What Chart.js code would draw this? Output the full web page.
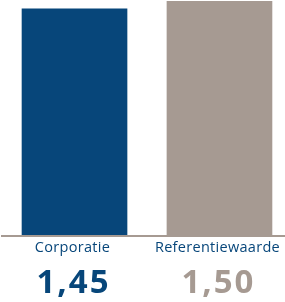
<!DOCTYPE html>
<html>
<head>
<meta charset="utf-8">
<script src="https://cdn.jsdelivr.net/npm/chart.js@4"></script>
<style>
  html, body { margin: 0; padding: 0; background: #fff; }
  #wrap { width: 285px; height: 302px; }
</style>
</head>
<body>
<div id="wrap"><canvas id="chart" width="285" height="302"></canvas></div>
<script>
// data
const categories = ['Corporatie', 'Referentiewaarde'];
const values = [1.45, 1.50];
const valueLabels = ['1,45', '1,50'];

const BLUE = '#07467a';
const GREY = '#a69a92';
const barColors = [BLUE, GREY];
const valueColors = [BLUE, GREY];

// labels + basislijn onder de balken
const bottomLabels = {
    id: 'bottomLabels',
    afterDatasetsDraw(chart) {
        const ctx = chart.ctx;
        const x = chart.scales.x;
        const area = chart.chartArea;
        ctx.save();
        ctx.fillStyle = GREY;
        ctx.fillRect(1, area.bottom, chart.width - 1, 2);

        ctx.textAlign = 'center';
        ctx.textBaseline = 'alphabetic';
        categories.forEach((name, i) => {
            const cx = x.getPixelForValue(i) - 2;
            ctx.letterSpacing = '0.3px';
            ctx.fillStyle = BLUE;
            ctx.font = '14.5px "Open Sans", sans-serif';
            ctx.fillText(name, cx, 252);
            ctx.letterSpacing = '2px';
            ctx.fillStyle = valueColors[i];
            ctx.font = 'bold 33px "Open Sans", sans-serif';
            ctx.fillText(valueLabels[i], cx + 1, 293);
        });
        ctx.restore();
    }
};

new Chart(document.getElementById('chart'), {
    type: 'bar',
    data: {
        datasets: [{
            data: values.map((v, i) => ({ x: i, y: v })),
            backgroundColor: barColors,
            borderWidth: 0,
            barThickness: 105
        }]
    },
    options: {
        responsive: false,
        animation: false,
        layout: { padding: { top: 1, bottom: 67, left: 0, right: 0 } },
        plugins: { legend: { display: false }, tooltip: { enabled: false } },
        scales: {
            x: { type: 'linear', display: false, offset: false, min: -0.514, max: 1.452 },
            y: { display: false, min: 0, max: 1.5 }
        }
    },
    plugins: [bottomLabels]
});
</script>
</body>
</html>
